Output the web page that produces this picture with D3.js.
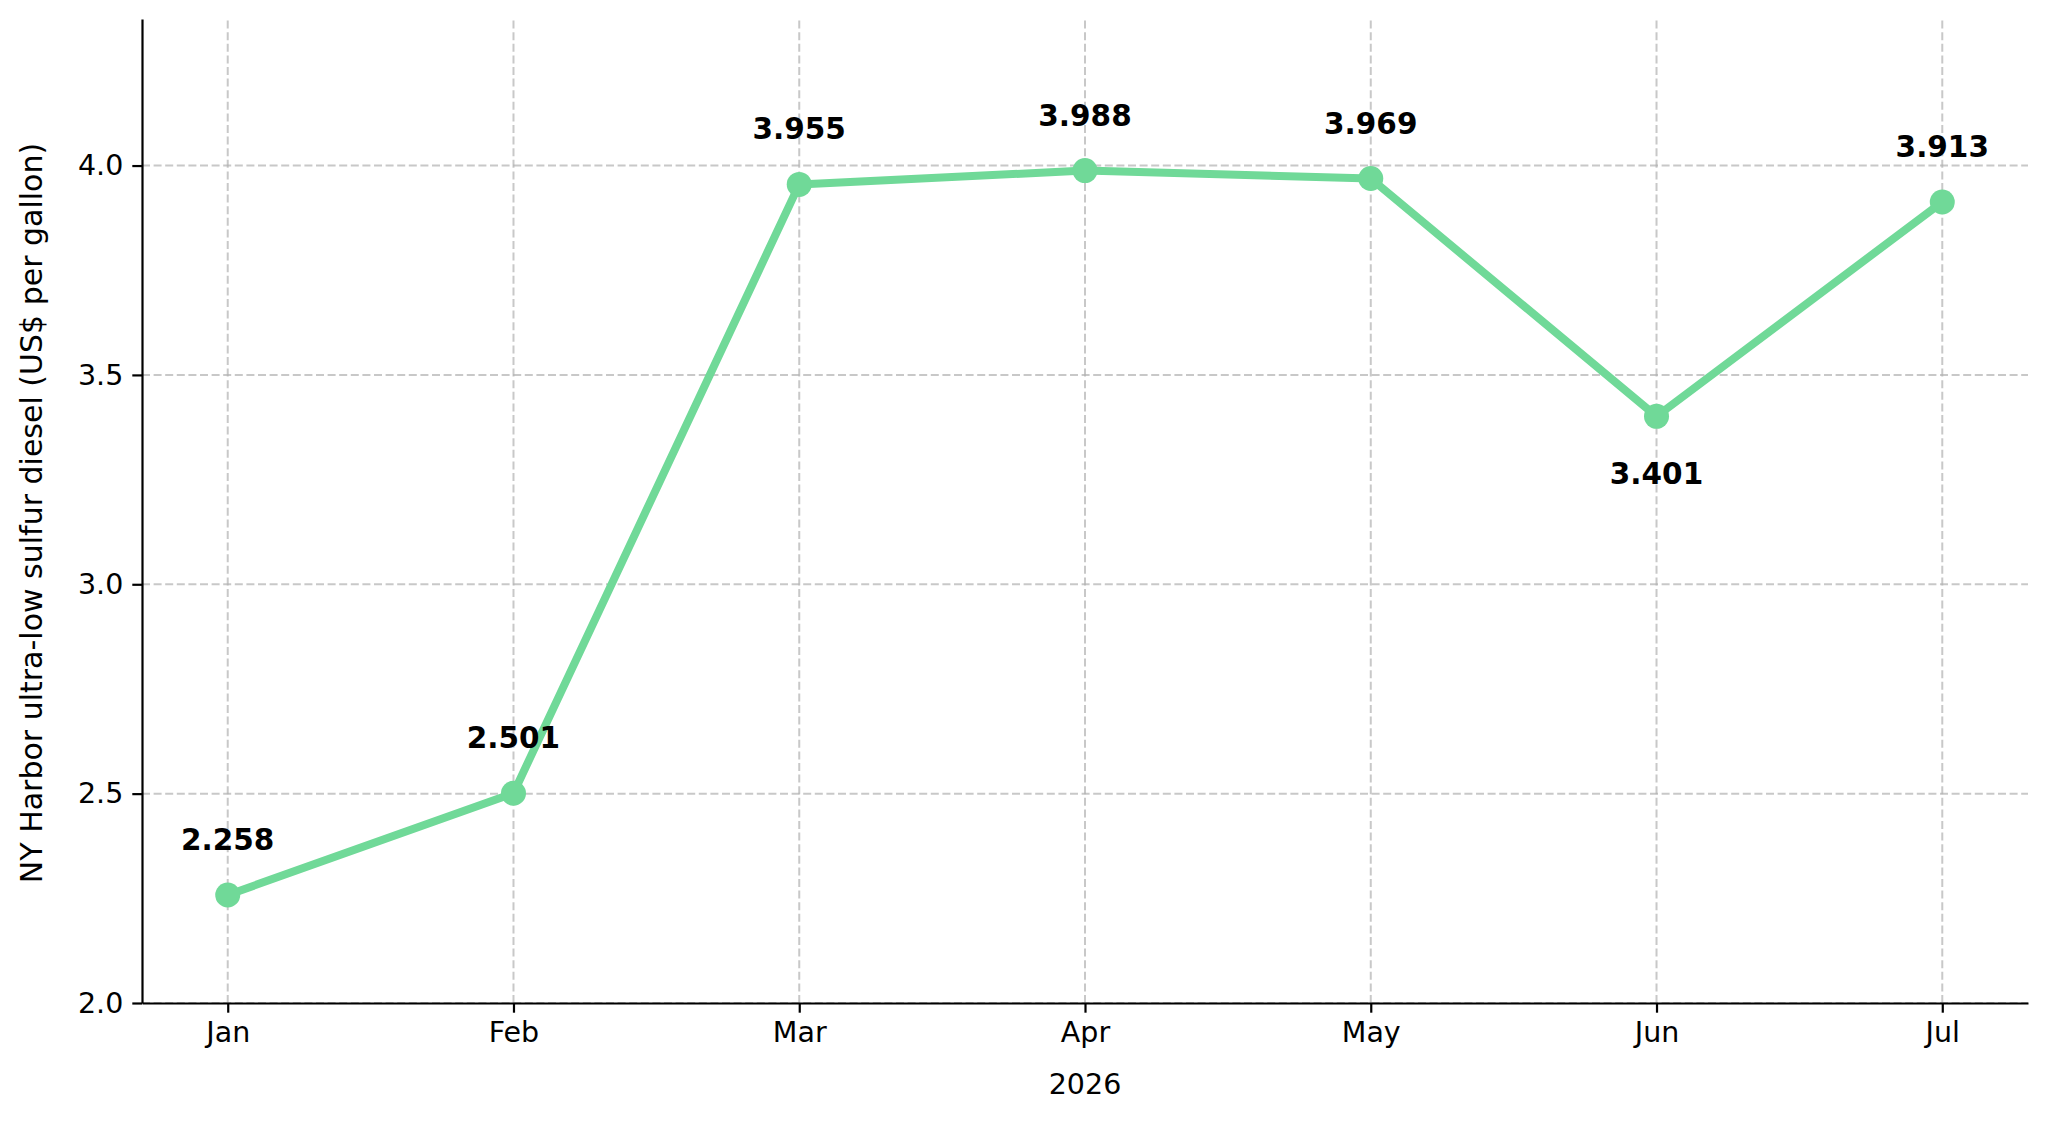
<!DOCTYPE html>
<html>
<head>
<meta charset="utf-8">
<script src="https://cdn.jsdelivr.net/npm/d3@7"></script>
<style>
  body { margin: 0; background: #fff; }
  text { font-family: "DejaVu Sans", sans-serif; fill: #000; }
</style>
</head>
<body>
<div id="chart"></div>
<script>
// data
const months = ["Jan", "Feb", "Mar", "Apr", "May", "Jun", "Jul"];
const prices = [2.258, 2.501, 3.955, 3.988, 3.969, 3.401, 3.913];
const yTicks = [2.0, 2.5, 3.0, 3.5, 4.0];
const xLabel = "2026";
const yLabel = "NY Harbor ultra-low sulfur diesel (US$ per gallon)";

const width = 2048,
  height = 1121,
  margin = { top: 19, right: 20, bottom: 118, left: 142 };

const lineColor = "#70d998";

const svg = d3.select("#chart")
  .append("svg")
  .attr("width", width)
  .attr("height", height);

const x = d3.scaleLinear()
  .domain([-0.3, months.length - 1 + 0.3])
  .range([margin.left, width - margin.right]);

const y = d3.scaleLinear()
  .domain([2.0, 4.35])
  .range([height - margin.bottom, margin.top]);

// grid
const grid = svg.append("g").attr("class", "grid");
grid.selectAll("line.gx")
  .data(months)
  .join("line")
  .attr("class", "gx")
  .attr("x1", (d, i) => x(i))
  .attr("x2", (d, i) => x(i))
  .attr("y1", y.range()[0])
  .attr("y2", y.range()[1]);
grid.selectAll("line.gy")
  .data(yTicks)
  .join("line")
  .attr("class", "gy")
  .attr("x1", x.range()[0])
  .attr("x2", x.range()[1])
  .attr("y1", d => y(d))
  .attr("y2", d => y(d));
grid.selectAll("line")
  .attr("stroke", "#b0b0b0")
  .attr("stroke-opacity", 0.7)
  .attr("stroke-width", 2)
  .attr("stroke-dasharray", "8,3.6");

// axes
const xAxis = svg.append("g")
  .attr("transform", `translate(0,${y.range()[0]})`)
  .call(d3.axisBottom(x)
    .tickValues(d3.range(months.length))
    .tickFormat(i => months[i])
    .tickSize(9.7)
    .tickPadding(9)
    .tickSizeOuter(0));

const yAxis = svg.append("g")
  .attr("transform", `translate(${x.range()[0]},0)`)
  .call(d3.axisLeft(y)
    .tickValues(yTicks)
    .tickFormat(d3.format(".1f"))
    .tickSize(9.7)
    .tickPadding(9)
    .tickSizeOuter(0));

[xAxis, yAxis].forEach(g => {
  g.select(".domain").attr("stroke", "#000").attr("stroke-width", 2.2);
  g.selectAll(".tick line").attr("stroke", "#000").attr("stroke-width", 2.2);
  g.selectAll(".tick text")
    .style("font-family", "DejaVu Sans")
    .style("font-size", "28.5px")
    .attr("fill", "#000");
});

// axis labels
svg.append("text")
  .attr("x", (x.range()[0] + x.range()[1]) / 2)
  .attr("y", 1094)
  .attr("text-anchor", "middle")
  .style("font-size", "28.5px")
  .text(xLabel);

svg.append("text")
  .attr("transform", `translate(41.5,${(y.range()[0] + y.range()[1]) / 2 + 2}) rotate(-90)`)
  .attr("text-anchor", "middle")
  .style("font-size", "30px")
  .text(yLabel);

// line + markers
const line = d3.line()
  .x((d, i) => x(i))
  .y(d => y(d));

svg.append("path")
  .datum(prices)
  .attr("fill", "none")
  .attr("stroke", lineColor)
  .attr("stroke-width", 8)
  .attr("stroke-linejoin", "round")
  .attr("d", line);

svg.selectAll("circle.pt")
  .data(prices)
  .join("circle")
  .attr("class", "pt")
  .attr("cx", (d, i) => x(i))
  .attr("cy", d => y(d))
  .attr("r", 12.5)
  .attr("fill", lineColor);

// value labels (the dip month gets its label below)
const minIdx = prices.indexOf(d3.min(prices.slice(2)));
svg.selectAll("text.val")
  .data(prices)
  .join("text")
  .attr("class", "val")
  .attr("x", (d, i) => x(i))
  .attr("y", (d, i) => i === minIdx ? y(d) + 68 : y(d) - 45)
  .attr("text-anchor", "middle")
  .style("font-size", "29.5px")
  .style("font-weight", "bold")
  .text(d => d3.format(".3f")(d));
</script>
</body>
</html>
